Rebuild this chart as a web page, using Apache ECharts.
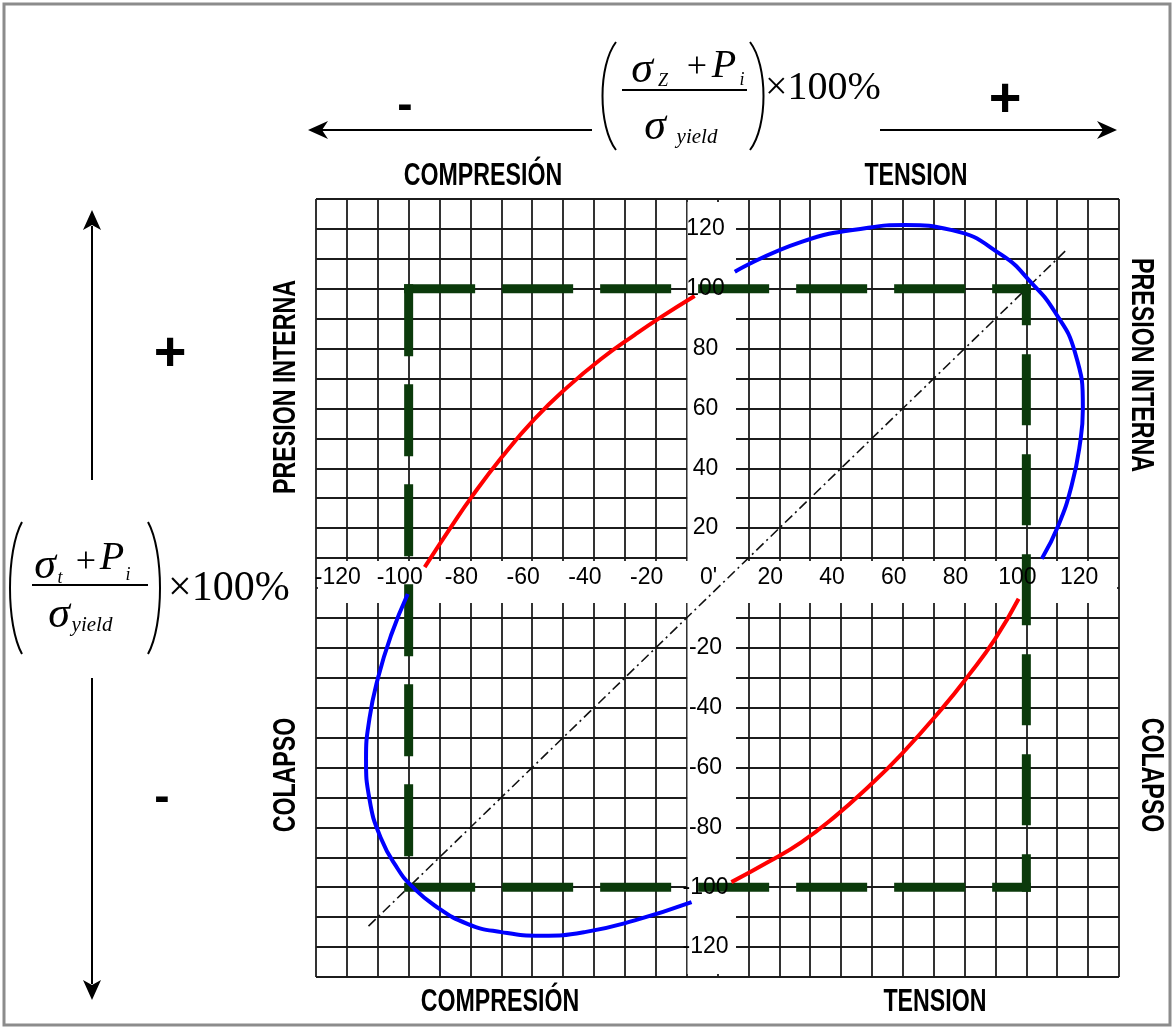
<!DOCTYPE html>
<html>
<head>
<meta charset="utf-8">
<script src="https://cdn.jsdelivr.net/npm/echarts@6/dist/echarts.min.js"></script>
<style>
  html, body { margin: 0; padding: 0; background: #fff; }
  #chart { width: 1175px; height: 1029px; }
</style>
</head>
<body>
<div id="chart"></div>
<script>
// Axis range and tick labels (percent of yield)
const axisMin = -130;
const axisMax = 130;
const gridStep = 10;
const xLabelValues = [-120, -100, -80, -60, -40, -20, 0, 20, 40, 60, 80, 100, 120];
const xLabelTexts = ['-120', '-100', '-80', '-60', '-40', '-20', "0'", '20', '40', '60', '80', '100', '120'];
const yLabelValues = [-120, -100, -80, -60, -40, -20, 20, 40, 60, 80, 100, 120];
const yLabelTexts = ['-120', '-100', '-80', '-60', '-40', '-20', '20', '40', '60', '80', '100', '120'];

// Biaxial ellipse, tension / internal-pressure branch (upper right)
const blueUpper = [[5.6, 105.7], [27.2, 115.7], [48.8, 120.4], [60.7, 121.3], [75.9, 119.6], [92, 111.3],
  [101.8, 101.8], [109.2, 92.3], [115.7, 78.9], [118.3, 60], [117.3, 47.8], [114.7, 34.4], [110.4, 21], [105, 9.8]];
// Compression / collapse branch (lower left)
const blueLower = [[-100.3, -2], [-105.7, -15.8], [-110, -30.3], [-112.7, -43.7], [-113.8, -57.1], [-112.7, -70.5],
  [-108.9, -83.8], [-103.5, -93.9], [-99.2, -99.4], [-91.6, -106.1], [-80.8, -112.3], [-70, -115], [-57, -116.2],
  [-43, -115], [-26.8, -111.1], [-8.4, -105]];
// Reduced-strength branches
const redUpper = [[-94.8, 7], [-86.2, 20.5], [-79.7, 30.3], [-70, 43.5], [-59.2, 56.5], [-48.4, 67.3], [-37.6, 76.6],
  [-26.8, 84.6], [-18.2, 90.6], [-7.4, 97.6]];
const redLower = [[97.5, -3.6], [89.9, -17], [81.3, -29.2], [72.6, -40.4], [59.6, -55.5], [48.8, -66.5], [38, -76.4],
  [27.2, -84.9], [16.4, -91.6], [4.5, -98.3]];
// 100 % yield square, one side at a time
const squareTop = [[-100, 100], [100, 100]];
const squareLeft = [[-100, 100], [-100, -100]];
const squareBottom = [[-100, -100], [100, -100]];
const squareRight = [[100, 100], [100, -100]];
// 45 degree reference line
const diagonal = [[-113, -113], [113, 113]];
// White label bands along the zero lines
const bandX = [-9.7, 6];
const bandY = [-5, 9];

const sans = "'Liberation Sans', Arial, 'DejaVu Sans', sans-serif";
const serif = "'Liberation Serif', 'Times New Roman', 'DejaVu Serif', serif";
const gridColor = '#1c1c1c';
const green = '#0b3a0b';

// plot box inside the 1175 x 1029 canvas
const gridBox = { left: 316, right: 56, top: 199, bottom: 52 };
const plotW = 1175 - gridBox.left - gridBox.right;
const plotH = 1029 - gridBox.top - gridBox.bottom;
// the label axes sit on the zero lines
const xLabelAxisOffset = -plotH * (0 - axisMin) / (axisMax - axisMin);
const yLabelAxisOffset = -plotW * (0 - axisMin) / (axisMax - axisMin);

function lookup(values, texts) {
  return function (v) {
    const i = values.indexOf(Math.round(v));
    return i < 0 ? '' : texts[i];
  };
}

function curve(data, color) {
  return {
    type: 'line', data: data, smooth: 0.5, showSymbol: false, silent: true, z: 3,
    xAxisIndex: 0, yAxisIndex: 0,
    lineStyle: { color: color, width: 4 }
  };
}
function squareSide(data, dash, offset) {
  return {
    type: 'line', data: data, showSymbol: false, silent: true, z: 3,
    xAxisIndex: 0, yAxisIndex: 0,
    lineStyle: { color: green, width: 9, type: dash, dashOffset: offset, cap: 'square' }
  };
}

function txt(x, y, text, size, opts) {
  opts = opts || {};
  return {
    type: 'text', x: x, y: y, rotation: opts.rotation || 0, silent: true, z: 10,
    scaleX: opts.scaleX || 1, scaleY: opts.scaleY || 1,
    style: {
      text: text, fontSize: size, fontFamily: opts.family || sans,
      fontStyle: opts.italic ? 'italic' : 'normal', fontWeight: opts.weight || 'normal',
      fill: '#000', align: opts.align || 'center', verticalAlign: 'middle'
    }
  };
}
// condensed caption text (horizontally squeezed sans)
function caption(x, y, text, rotation) {
  return txt(x, y, text, 29, { rotation: rotation || 0, scaleX: 0.8, scaleY: 1.05, weight: 'bold' });
}
function seg(x1, y1, x2, y2, w) {
  return { type: 'line', silent: true, z: 10, shape: { x1: x1, y1: y1, x2: x2, y2: y2 },
    style: { stroke: '#000', lineWidth: w || 2 } };
}
function head(points) {
  return { type: 'polygon', silent: true, z: 10, shape: { points: points }, style: { fill: '#000' } };
}
function paren(x1, y1, cx, y2) {
  return { type: 'bezierCurve', silent: true, z: 10,
    shape: { x1: x1, y1: y1, cpx1: cx, cpy1: y1 + (y2 - y1) * 0.22, cpx2: cx, cpy2: y2 - (y2 - y1) * 0.22, x2: x1, y2: y2 },
    style: { stroke: '#000', lineWidth: 2, fill: null } };
}

const chart = echarts.init(document.getElementById('chart'), null, { renderer: 'canvas' });

const option = {
  backgroundColor: '#fff',
  animation: false,
  grid: { left: gridBox.left, right: gridBox.right, top: gridBox.top, bottom: gridBox.bottom },
  xAxis: [
    { // grid lines
      type: 'value', min: axisMin, max: axisMax, interval: gridStep, position: 'top',
      axisLine: { show: false, onZero: false }, axisTick: { show: false }, axisLabel: { show: false },
      splitLine: { show: true, lineStyle: { color: gridColor, width: 1.8 } }
    },
    { // tick labels along the zero line
      type: 'value', min: axisMin, max: axisMax, interval: gridStep, position: 'bottom', z: 6,
      offset: xLabelAxisOffset,
      axisLine: { show: false, onZero: false }, axisTick: { show: false },
      splitLine: { show: false },
      axisLabel: { show: true, margin: -10, verticalAlign: 'middle', fontFamily: sans, fontSize: 23,
        padding: [0, 18, 0, 0], color: '#000', formatter: lookup(xLabelValues, xLabelTexts) }
    }
  ],
  yAxis: [
    {
      type: 'value', min: axisMin, max: axisMax, interval: gridStep, position: 'right',
      axisLine: { show: false, onZero: false }, axisTick: { show: false }, axisLabel: { show: false },
      splitLine: { show: true, lineStyle: { color: gridColor, width: 1.8 } }
    },
    {
      type: 'value', min: axisMin, max: axisMax, interval: gridStep, position: 'left', z: 6,
      offset: yLabelAxisOffset,
      axisLine: { show: false, onZero: false }, axisTick: { show: false },
      splitLine: { show: false },
      axisLabel: { show: true, margin: 12, align: 'center', fontFamily: sans, fontSize: 23,
        color: '#000', formatter: lookup(yLabelValues, yLabelTexts) }
    }
  ],
  series: [
    { // white bands behind the tick labels
      type: 'line', data: [[0, 0]], showSymbol: false, silent: true, z: 1,
      xAxisIndex: 0, yAxisIndex: 0, lineStyle: { opacity: 0 },
      markArea: {
        silent: true,
        itemStyle: { color: '#fff', opacity: 1 },
        data: [
          [{ xAxis: bandX[0], yAxis: axisMin + 1 }, { xAxis: bandX[1], yAxis: axisMax - 1 }],
          [{ xAxis: axisMin + 0.6, yAxis: bandY[0] }, { xAxis: axisMax - 0.6, yAxis: bandY[1] }]
        ]
      }
    },
    {
      type: 'line', data: diagonal, showSymbol: false, silent: true, z: 2,
      xAxisIndex: 0, yAxisIndex: 0,
      lineStyle: { color: '#111', width: 1.6, type: [10, 4, 2, 4] }
    },
    squareSide(squareTop, [62, 36], 0),
    squareSide(squareLeft, [63, 37], 0),
    squareSide(squareBottom, [62, 36], 0),
    squareSide(squareRight, [62, 38], 30),
    curve(redUpper, '#ff0000'),
    curve(redLower, '#ff0000'),
    curve(blueUpper, '#0000ff'),
    curve(blueLower, '#0000ff')
  ],
  graphic: [
    // outer frame
    { type: 'rect', silent: true, z: 10, shape: { x: 4, y: 4, width: 1166, height: 1021 },
      style: { fill: null, stroke: '#8c8c8c', lineWidth: 3 } },

    // horizontal axis heading
    seg(592, 130, 312, 130), head([[308, 130], [328, 121], [322, 130], [328, 139]]),
    seg(880, 130, 1112, 130), head([[1117, 130], [1097, 121], [1103, 130], [1097, 139]]),
    txt(405, 106, '-', 46, { weight: 'bold' }),
    txt(1005, 101, '+', 56, { weight: 'bold' }),
    paren(616, 42, 598, 150), paren(750, 42, 768, 150),
    txt(642, 70, 'σ', 44, { italic: true, family: serif }),
    txt(663, 81, 'Z', 18, { italic: true, family: serif }),
    txt(697, 68, '+', 36, { family: serif }),
    txt(724, 66, 'P', 40, { italic: true, family: serif }),
    txt(742, 80, 'i', 18, { italic: true, family: serif }),
    seg(622, 90, 747, 90, 2),
    txt(655, 127, 'σ', 44, { italic: true, family: serif }),
    txt(697, 137, 'yield', 21, { italic: true, family: serif }),
    txt(765, 88, '×100%', 40, { family: serif, align: 'left' }),
    caption(483, 177, 'COMPRESIÓN'),
    caption(916, 177, 'TENSION'),

    // vertical axis heading
    seg(92, 226, 92, 480), head([[92, 210], [83, 230], [92, 225], [101, 230]]),
    seg(92, 678, 92, 984), head([[92, 1000], [83, 980], [92, 985], [101, 980]]),
    txt(170, 355, '+', 56, { weight: 'bold' }),
    txt(162, 798, '-', 46, { weight: 'bold' }),
    paren(22, 522, 6, 654), paren(148, 522, 164, 654),
    txt(45, 566, 'σ', 44, { italic: true, family: serif }),
    txt(60, 578, 't', 18, { italic: true, family: serif }),
    txt(86, 563, '+', 36, { family: serif }),
    txt(112, 558, 'P', 40, { italic: true, family: serif }),
    txt(128, 575, 'i', 18, { italic: true, family: serif }),
    seg(32, 585, 148, 585, 2),
    txt(59, 615, 'σ', 44, { italic: true, family: serif }),
    txt(92, 625, 'yield', 21, { italic: true, family: serif }),
    txt(168, 589, '×100%', 42, { family: serif, align: 'left' }),

    // side captions
    caption(287, 387, 'PRESION INTERNA', Math.PI / 2),
    caption(287, 775, 'COLAPSO', Math.PI / 2),
    caption(1140, 365, 'PRESION INTERNA', -Math.PI / 2),
    caption(1150, 775, 'COLAPSO', -Math.PI / 2),

    // bottom captions
    caption(500, 1003, 'COMPRESIÓN'),
    caption(935, 1003, 'TENSION')
  ]
};

chart.setOption(option);
</script>
</body>
</html>
